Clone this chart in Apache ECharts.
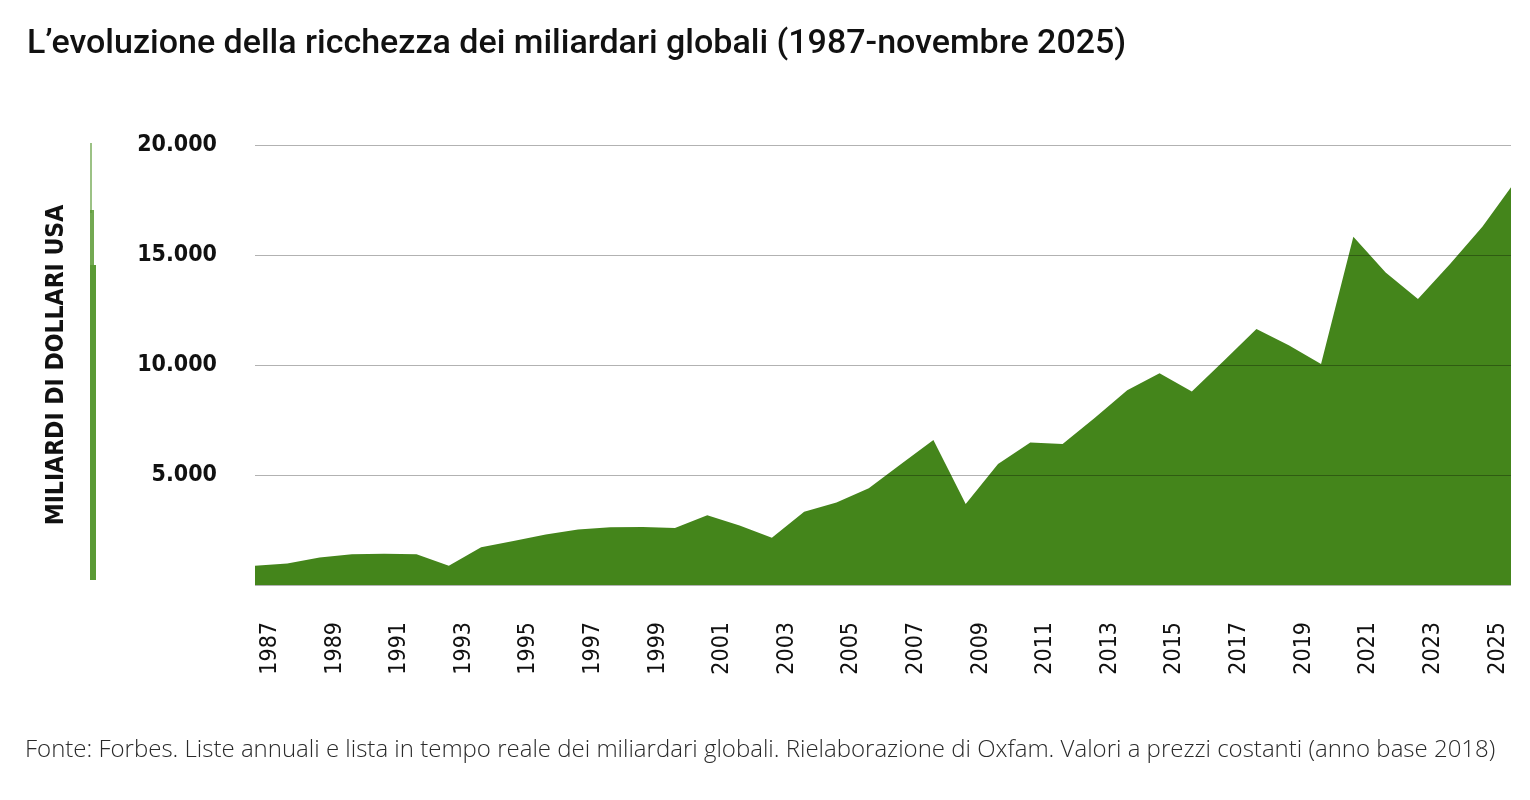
<!DOCTYPE html>
<html>
<head>
<meta charset="utf-8">
<script src="https://cdn.jsdelivr.net/npm/echarts@6/dist/echarts.min.js"></script>
<style>
html,body{margin:0;padding:0;background:#fff;}
#chart{width:1530px;height:800px;}
</style>
</head>
<body>
<div id="chart"></div>
<script>
// Data (miliardi di dollari USA, prezzi costanti 2018)
const years = [1987,1988,1989,1990,1991,1992,1993,1994,1995,1996,1997,1998,1999,2000,2001,2002,2003,2004,2005,2006,2007,2008,2009,2010,2011,2012,2013,2014,2015,2016,2017,2018,2019,2020,2021,2022,2023,2024,2025,2025.88];
const wealth = [880,980,1250,1400,1420,1400,880,1720,2000,2300,2520,2620,2640,2590,3170,2700,2150,3330,3750,4400,5500,6590,3680,5500,6480,6410,7600,8850,9620,8790,10200,11640,10900,10050,15830,14200,13000,14600,16300,18080];
const xTickLabels = [1987,1989,1991,1993,1995,1997,1999,2001,2003,2005,2007,2009,2011,2013,2015,2017,2019,2021,2023,2025];
const yTicks = [0,5000,10000,15000,20000];
const titleText = 'L\u2019evoluzione della ricchezza dei miliardari globali (1987-novembre 2025)';
const yAxisName = 'MILIARDI DI DOLLARI USA';
const sourceText = 'Fonte: Forbes. Liste annuali e lista in tempo reale dei miliardari globali. Rielaborazione di Oxfam. Valori a prezzi costanti (anno base 2018)';

const seriesData = years.map((y, i) => [y, wealth[i]]);
const chart = echarts.init(document.getElementById('chart'));
chart.setOption({
  animation: false,
  backgroundColor: '#ffffff',
  title: {
    text: titleText,
    left: 22, top: 22,
    textStyle: {fontFamily: 'Roboto', fontSize: 34, fontWeight: 500, color: '#111'}
  },
  graphic: [
    {type: 'rect', z: 5, shape: {x: 90, y: 143, width: 2, height: 70}, style: {fill: '#5a9a34', opacity: 0.6}},
    {type: 'rect', z: 5, shape: {x: 90, y: 210, width: 4, height: 60}, style: {fill: '#5a9a34', opacity: 0.85}},
    {type: 'rect', z: 5, shape: {x: 90, y: 265, width: 6, height: 315}, style: {fill: '#5a9a34'}},
    {type: 'text', left: 25, top: 738, style: {text: sourceText, fontFamily: 'Open Sans', fontSize: 24, fontWeight: 300, fill: '#2a2a2a'}}
  ],
  grid: {left: 255, right: 19, top: 145, bottom: 215, containLabel: false},
  xAxis: {
    type: 'value', min: years[0], max: years[years.length - 1],
    axisLine: {show: false}, axisTick: {show: false}, splitLine: {show: false},
    axisLabel: {
      customValues: xTickLabels, rotate: 90, margin: 37,
      fontFamily: 'DejaVu Sans Condensed', fontSize: 23, color: '#111',
      verticalAlign: 'top', lineHeight: 30,
      formatter: v => String(v)
    }
  },
  yAxis: {
    type: 'value', min: yTicks[0], max: yTicks[yTicks.length - 1], interval: 5000,
    z: 10,
    name: yAxisName, nameLocation: 'middle', nameRotate: 90, nameGap: 186,
    nameTextStyle: {fontFamily: 'DejaVu Sans Condensed', fontWeight: 'bold', fontSize: 24.5, color: '#111'},
    axisLine: {show: false}, axisTick: {show: false},
    splitLine: {show: true, lineStyle: {color: 'rgba(0,0,0,0.3)', width: 1}},
    axisLabel: {
      margin: 38, fontFamily: 'DejaVu Sans Condensed', fontWeight: 'bold', fontSize: 23, color: '#111',
      formatter: v => v === 0 ? '' : v.toLocaleString('it-IT').replace(/\s/g, '.')
    }
  },
  series: [{
    type: 'line', data: seriesData, symbol: 'none', z: 2,
    lineStyle: {width: 0},
    areaStyle: {color: '#44851b', opacity: 1}
  }]
});
</script>
</body>
</html>
